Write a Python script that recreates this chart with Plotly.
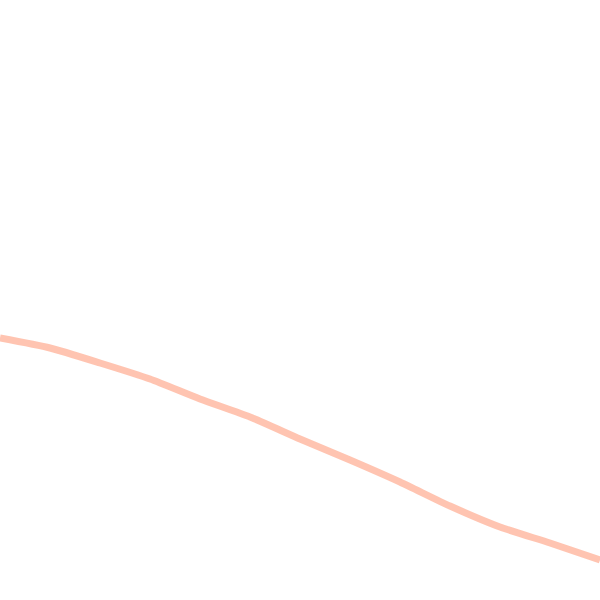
import plotly.graph_objects as go

x_vals = [0, 50, 100, 150, 200, 250, 300, 350, 400, 450, 500, 550, 600]
y_vals = [262, 252, 237, 221, 201, 183, 161, 140, 118, 94, 73, 57, 40]

fig = go.Figure()
fig.add_trace(go.Scatter(
    x=x_vals, y=y_vals, mode="lines",
    line=dict(color="rgba(255,165,135,0.65)", width=7, shape="spline", smoothing=0.6),
    hoverinfo="skip", showlegend=False,
))
fig.update_layout(
    width=600, height=600,
    margin=dict(l=0, r=0, t=0, b=0),
    paper_bgcolor="white", plot_bgcolor="white",
    xaxis=dict(visible=False, range=[0, 600], fixedrange=True),
    yaxis=dict(visible=False, range=[0, 600], fixedrange=True),
)
fig.write_html("out.html", config={"displayModeBar": False},
               post_script="document.body.style.margin='0';")
